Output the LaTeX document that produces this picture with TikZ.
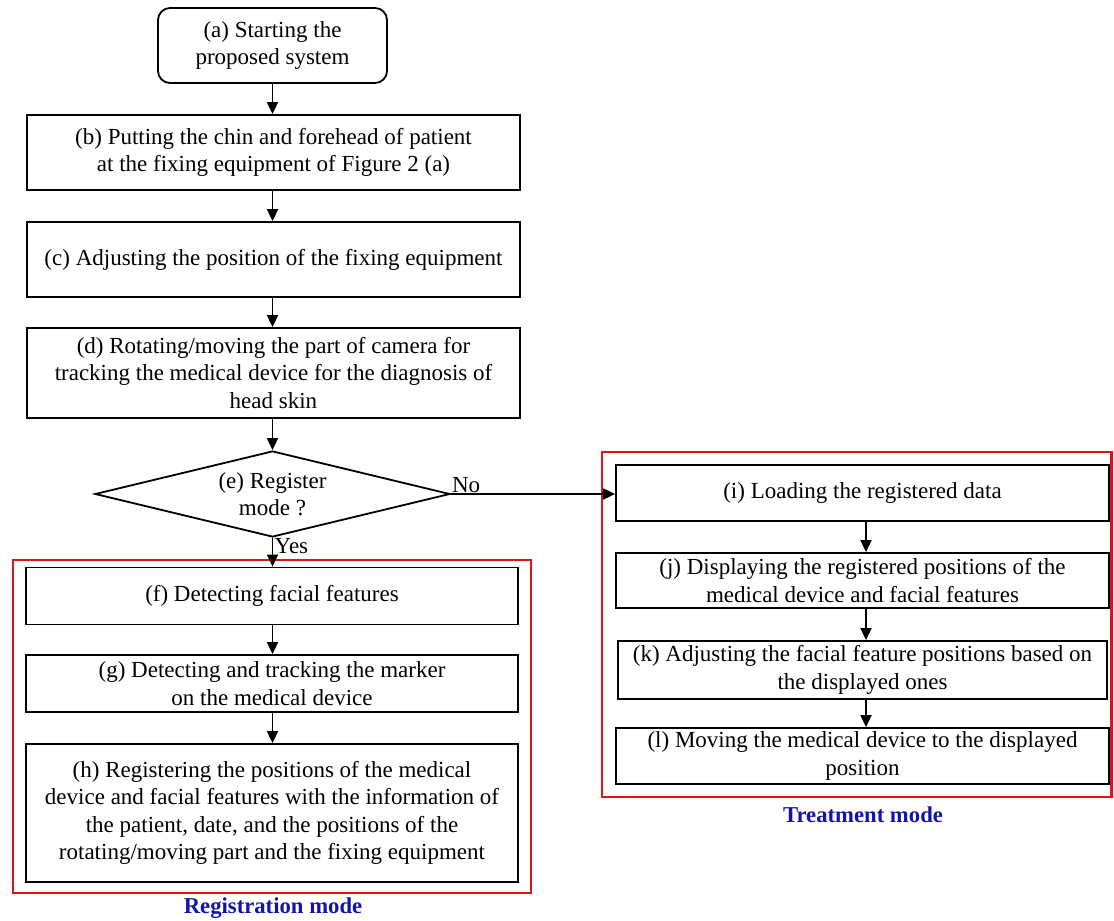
\documentclass[tikz,border=0pt]{standalone}
\usepackage{fontspec}
\setmainfont{Liberation Serif}
\usetikzlibrary{shapes.geometric,arrows.meta}
\definecolor{modeblue}{RGB}{20,20,170}
\definecolor{modered}{RGB}{220,20,20}
\begin{document}
\begin{tikzpicture}[x=1pt,y=-1pt,
  every node/.style={font=\fontsize{23}{27.5}\selectfont},
  stepbox/.style={draw,line width=1.8pt,align=center,inner sep=0pt},
  arr/.style={line width=1.8pt,-{Triangle[length=12pt,width=11pt]}},
  modebox/.style={draw=modered,line width=2.6pt},
  modelabel/.style={text=modeblue,font=\fontsize{22.7}{26}\selectfont\bfseries}]
\useasboundingbox (0,0) rectangle (1114,921);
% left column
\node[stepbox,rounded corners=12pt,minimum width=229pt,minimum height=75pt] (a) at (272.5,45.5) {(a) Starting the\\proposed system};
\node[stepbox,minimum width=493pt,minimum height=75pt] (b) at (273.5,152.5) {(b) Putting the chin and forehead of patient\\at the fixing equipment of Figure 2 (a)};
\node[stepbox,minimum width=493pt,minimum height=75pt] (c) at (273.5,259.5) {(c) Adjusting the position of the fixing equipment};
\node[stepbox,minimum width=493pt,minimum height=90pt] (d) at (273.5,373) {(d) Rotating/moving the part of camera for\\tracking the medical device for the diagnosis of\\head skin};
\node[draw,line width=1.8pt,shape=diamond,aspect=4.15,minimum width=355pt,minimum height=86pt,inner sep=0pt,align=center] (e) at (272.5,494) {(e) Register\\mode ?};
\node[stepbox,minimum width=492pt,minimum height=57pt] (f) at (272,596) {(f) Detecting facial features};
\node[stepbox,minimum width=492pt,minimum height=57pt] (g) at (272,683.5) {(g) Detecting and tracking the marker\\on the medical device};
\node[stepbox,minimum width=492pt,minimum height=138pt] (h) at (272,813) {(h) Registering the positions of the medical\\device and facial features with the information of\\the patient, date, and the positions of the\\rotating/moving part and the fixing equipment};
% right column
\node[stepbox,minimum width=493pt,minimum height=56pt] (i) at (862.5,493) {(i) Loading the registered data};
\node[stepbox,minimum width=493pt,minimum height=55pt] (j) at (862.5,580.5) {(j) Displaying the registered positions of the\\medical device and facial features};
\node[stepbox,minimum width=489pt,minimum height=58pt] (k) at (862.5,670) {(k) Adjusting the facial feature positions based on\\the displayed ones};
\node[stepbox,minimum width=493pt,minimum height=56pt] (l) at (862.5,756) {(l) Moving the medical device to the displayed\\position};
% mode frames
\draw[modebox] (13,560) rectangle (531,893);
\draw[modebox] (602,452) rectangle (1111.5,797);
\node[modelabel] (regl) at (273,908) {Registration mode};
\node[modelabel] (trl) at (863,815) {Treatment mode};
% connectors
\coordinate (rx) at (866,0);
\draw[arr] (a.south) -- (a.south |- b.north);
\draw[arr] (b.south -| a.south) -- (c.north -| a.south);
\draw[arr] (c.south -| a.south) -- (d.north -| a.south);
\draw[arr] (d.south -| e.north) -- (e.north);
\draw[arr] (e.south) -- (e.south |- f.north);
\draw[arr] (f.south -| e.south) -- (g.north -| e.south);
\draw[arr] (g.south -| e.south) -- (h.north -| e.south);
\draw[arr] (e.east) -- (e.east -| i.west);
\draw[arr] (i.south -| rx) -- (j.north -| rx);
\draw[arr] (j.south -| rx) -- (k.north -| rx);
\draw[arr] (k.south -| rx) -- (l.north -| rx);
\node[anchor=south west,inner sep=1pt] (nol) at (e.east) {No};
\node[anchor=north west,inner xsep=2pt,inner ysep=0pt] (yesl) at (e.south) {Yes};
\end{tikzpicture}
\end{document}
